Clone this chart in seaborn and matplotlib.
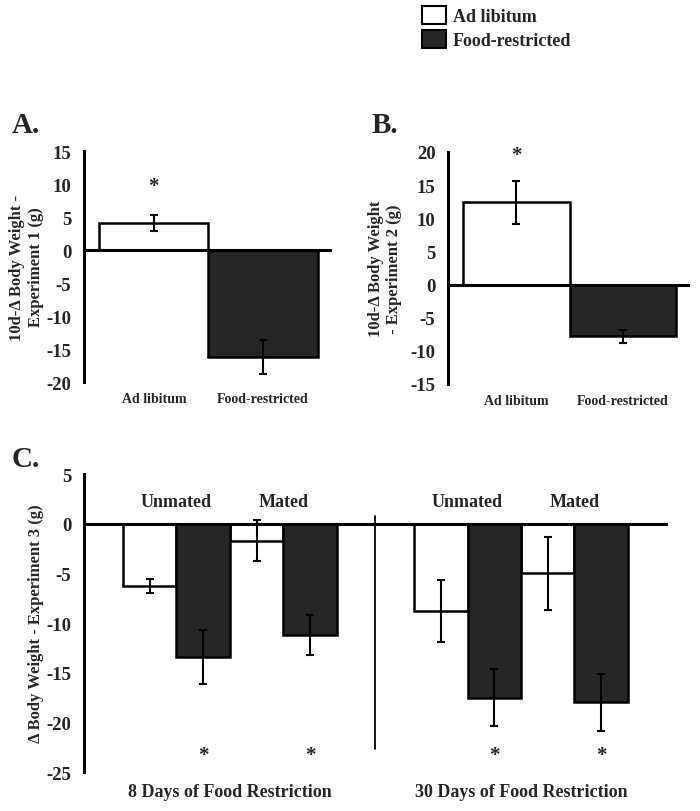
import matplotlib
matplotlib.use("Agg")
import matplotlib.pyplot as plt
from matplotlib.patches import Patch
import pandas as pd
import seaborn as sns

# groups shared by all panels
groups = ["Ad libitum", "Food-restricted"]
colors = {"Ad libitum": "white", "Food-restricted": "#262626"}

# panel A - experiment 1 (10 day change, g)
exp1_mean = [4.1, -16.2]
exp1_sem = [1.2, 2.6]
exp1_sig = [True, False]

# panel B - experiment 2
exp2_mean = [12.4, -7.8]
exp2_sem = [3.2, 1.0]
exp2_sig = [True, False]

# panel C - experiment 3
exp3_duration = ["8 Days of Food Restriction"] * 4 + ["30 Days of Food Restriction"] * 4
exp3_mating = ["Unmated", "Unmated", "Mated", "Mated"] * 2
exp3_diet = groups * 4
exp3_mean = [-6.3, -13.4, -1.7, -11.2, -8.8, -17.5, -5.0, -18.0]
exp3_sem = [0.7, 2.7, 2.1, 2.0, 3.1, 2.9, 3.7, 2.9]
exp3_sig = [False, True, False, True] * 2

sns.set_style("white")
plt.rcParams["font.family"] = ["Liberation Serif", "DejaVu Serif"]
plt.rcParams["font.weight"] = "bold"
plt.rcParams["axes.unicode_minus"] = False

EDGE_LW = 1.8
ERR_KW = dict(fmt="none", ecolor="black", elinewidth=1.5, capsize=3, capthick=1.5)


def style_axis(ax, ylim, step, ylabel, labelpad):
    sns.despine(ax=ax, bottom=True)
    ax.spines["left"].set_linewidth(2.2)
    ax.spines["left"].set_color("black")
    ax.axhline(0, color="black", lw=2.2, zorder=3)
    ax.set_ylim(*ylim)
    ax.set_yticks(range(ylim[0], ylim[1] + 1, step))
    ax.tick_params(axis="y", length=0, pad=9, labelsize=13.5)
    ax.set_ylabel(ylabel, fontsize=12, fontweight="bold", labelpad=labelpad)


def draw_pair(ax, means, sems, sig, star_y, ylim, ylabel, labelpad):
    df = pd.DataFrame({"group": groups, "mean": means})
    sns.barplot(data=df, x="group", y="mean", hue="group", palette=colors,
                width=1.0, saturation=1, edgecolor="black", linewidth=EDGE_LW,
                errorbar=None, legend=False, ax=ax)
    ax.errorbar(range(len(groups)), means, yerr=sems, **ERR_KW)
    for i, s in enumerate(sig):
        if s:
            ax.text(i, star_y, "*", ha="center", va="center", fontsize=15)
    ax.set_xlim(-0.64, 1.63)
    ax.set_xlabel("")
    ax.tick_params(axis="x", length=0, pad=7, labelsize=10)
    style_axis(ax, ylim, 5, ylabel, labelpad)


fig = plt.figure(figsize=(7, 8.12), dpi=100)

axA = fig.add_axes([0.12, 0.5283, 0.354, 0.2845])
draw_pair(axA, exp1_mean, exp1_sem, exp1_sig, 9.7, (-20, 15),
          "10d-\u0394 Body Weight -\nExperiment 1 (g)", 2)

axB = fig.add_axes([0.64, 0.5259, 0.3457, 0.2857])
draw_pair(axB, exp2_mean, exp2_sem, exp2_sig, 19.5, (-15, 20),
          "10d-\u0394 Body Weight\n- Experiment 2 (g)", 6)

# panel C: two blocks of four bars with a gap in between
gap = 1.45
exp3_pos = [i if i < 4 else i + gap for i in range(8)]
dfc = pd.DataFrame({"pos": exp3_pos, "diet": exp3_diet, "mean": exp3_mean})

axC = fig.add_axes([0.12, 0.048, 0.834, 0.367])
sns.barplot(data=dfc, x="pos", y="mean", hue="diet", palette=colors, native_scale=True,
            width=1.0, saturation=1, edgecolor="black", linewidth=EDGE_LW,
            errorbar=None, legend=False, ax=axC)
axC.errorbar(exp3_pos, exp3_mean, yerr=exp3_sem, **ERR_KW)
for p, s in zip(exp3_pos, exp3_sig):
    if s:
        axC.text(p, -23.3, "*", ha="center", va="center", fontsize=15)

# mating status labels above each pair
for k in range(0, 8, 2):
    axC.text((exp3_pos[k] + exp3_pos[k + 1]) / 2, 2.2, exp3_mating[k],
             ha="center", va="center", fontsize=13)
# duration labels under each block
for k in (0, 4):
    axC.text((exp3_pos[k] + exp3_pos[k + 3]) / 2, -27.0, exp3_duration[k],
             ha="center", va="center", fontsize=13, clip_on=False)

sep = (exp3_pos[3] + exp3_pos[4]) / 2
axC.plot([sep, sep], [0.8, -22.7], color="black", lw=1.3)
axC.set_xlim(-1.23, 9.7)
axC.set_xticks([])
axC.set_xlabel("")
style_axis(axC, (-25, 5), 5, "\u0394 Body Weight - Experiment 3 (g)", 2)

# panel letters
fig.text(0.017, 0.836, "A.", fontsize=21, fontweight="bold")
fig.text(0.531, 0.836, "B.", fontsize=21, fontweight="bold")
fig.text(0.017, 0.425, "C.", fontsize=21, fontweight="bold")

handles = [Patch(facecolor=colors[g], edgecolor="black", linewidth=1.5) for g in groups]
fig.legend(handles, groups, loc="upper left", bbox_to_anchor=(0.603, 0.991),
           frameon=False, fontsize=13, handlelength=1.3, handleheight=1.15,
           handletextpad=0.4, labelspacing=0.25, borderpad=0, borderaxespad=0)

fig.savefig("out.png", dpi=100)
